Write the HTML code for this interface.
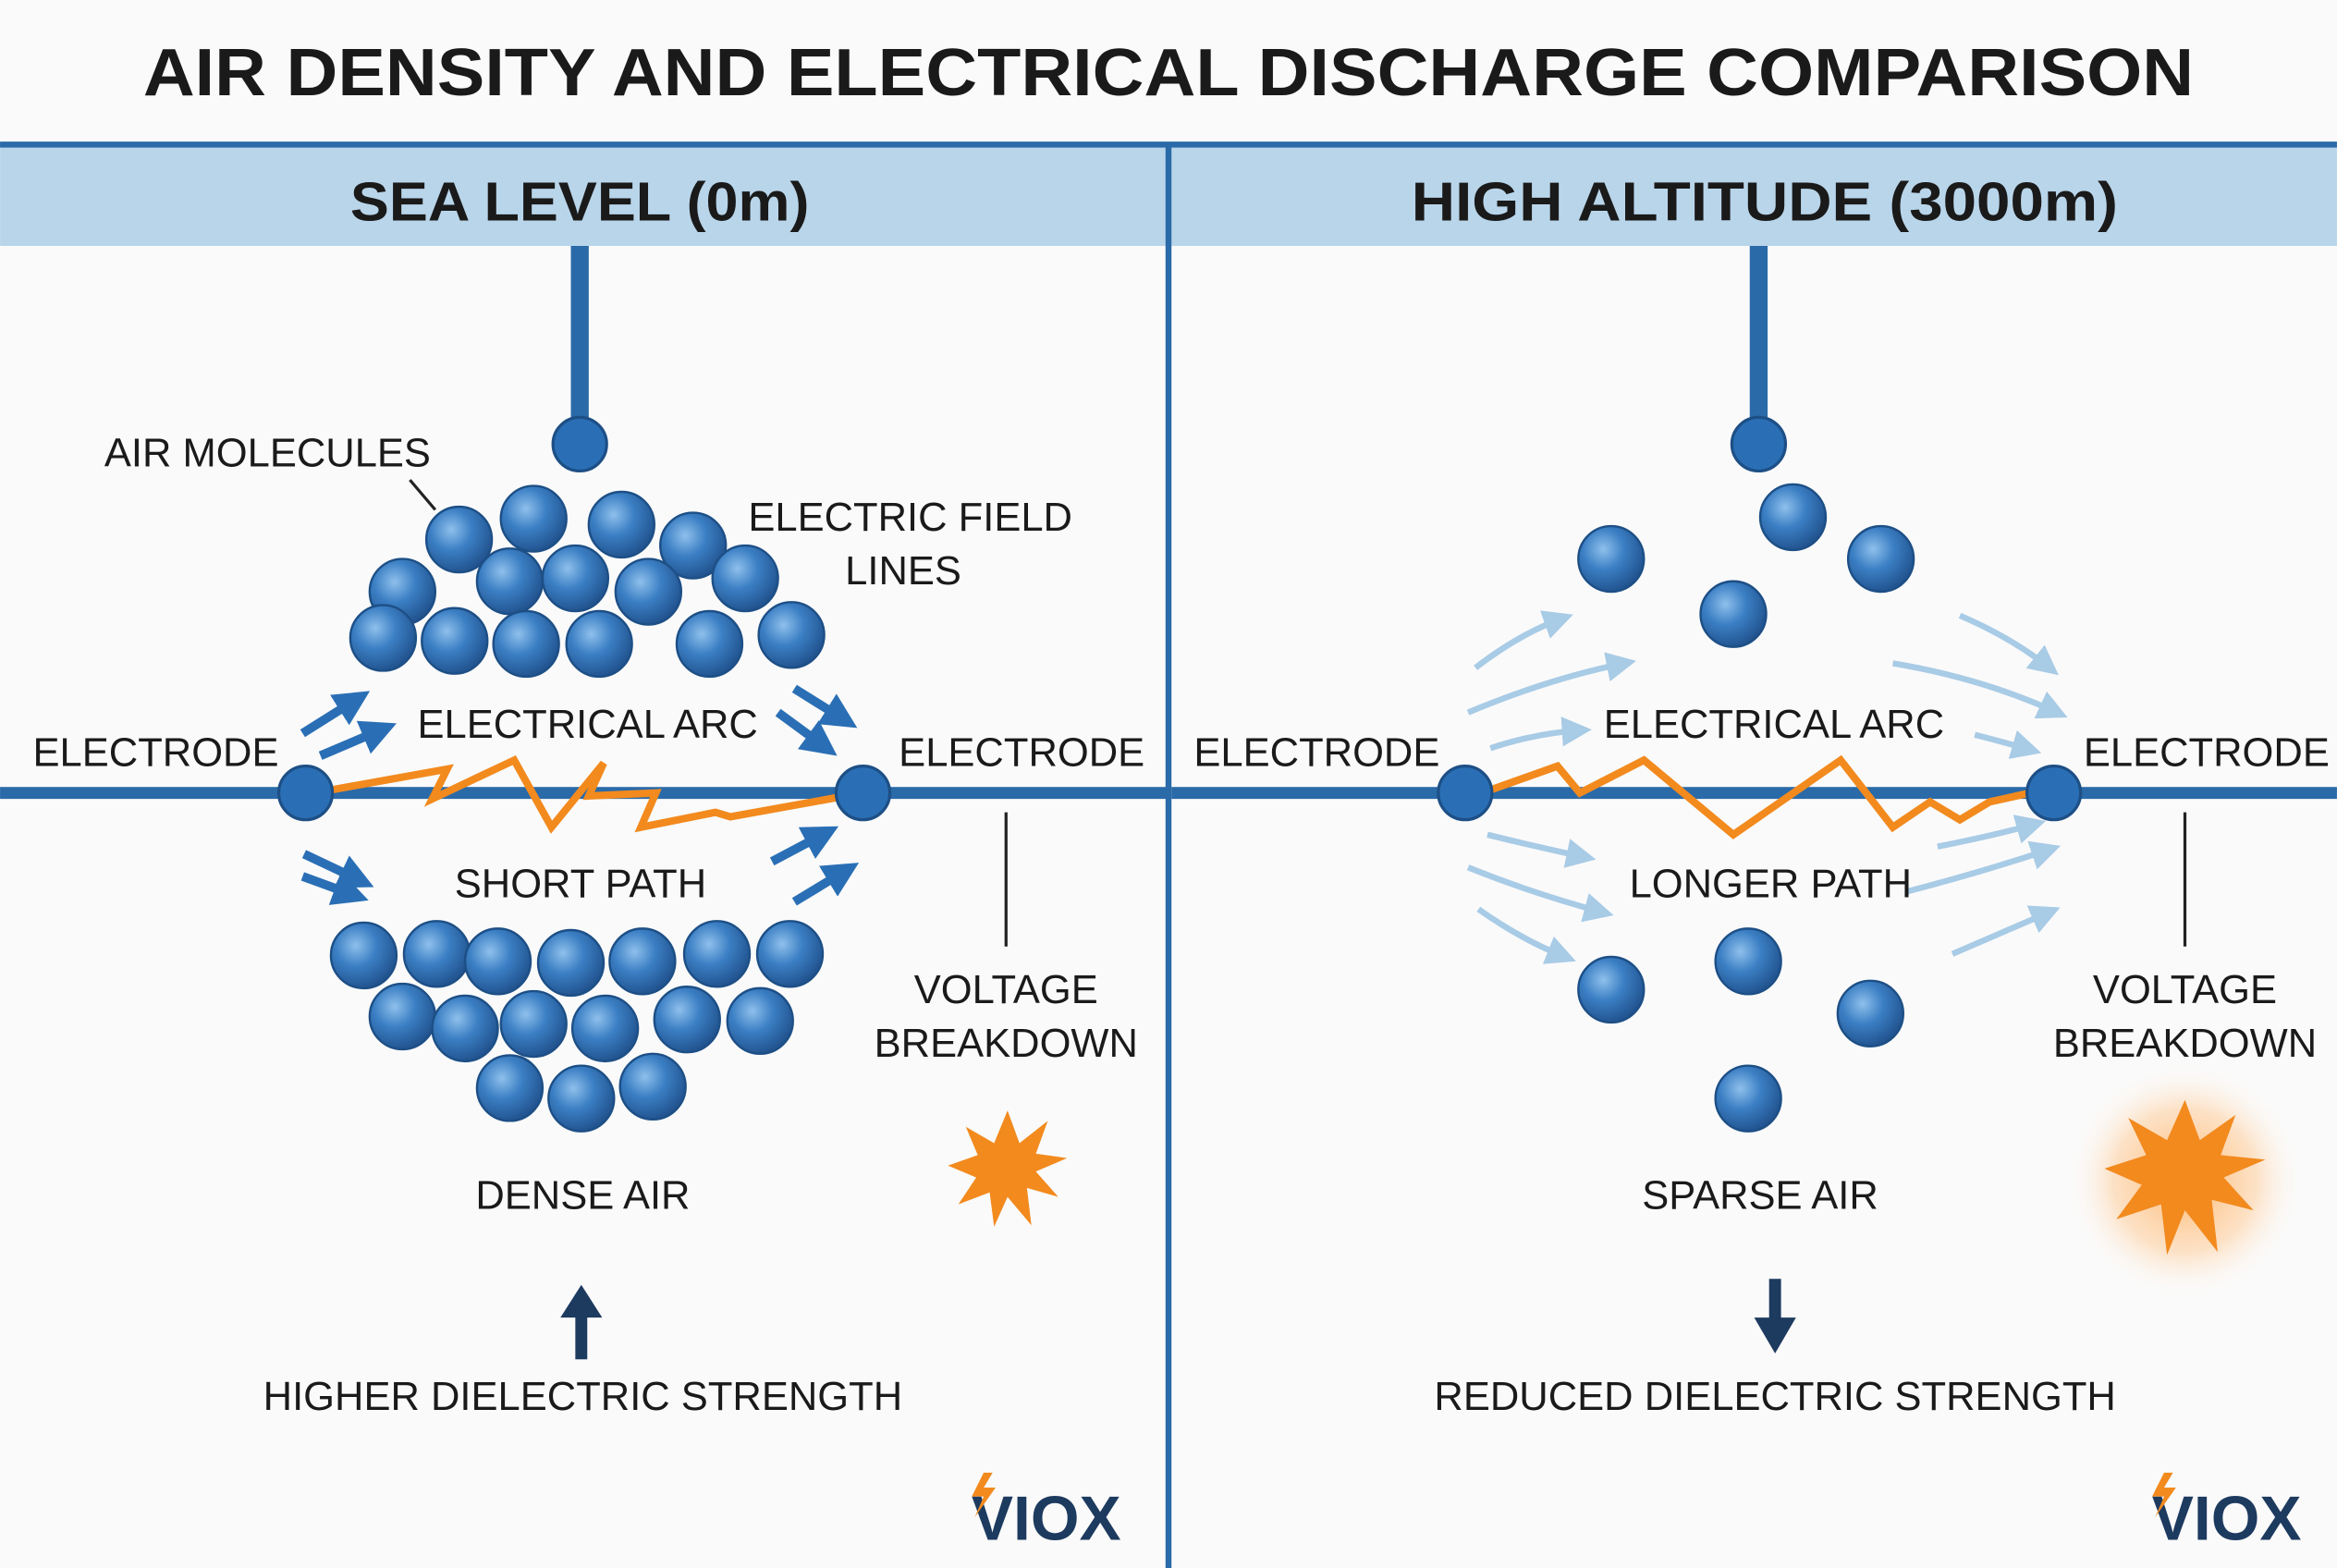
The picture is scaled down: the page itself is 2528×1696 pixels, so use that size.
<!DOCTYPE html>
<html><head><meta charset="utf-8"><style>
html,body{margin:0;padding:0;background:#fafafa}
svg{display:block}
text{font-family:"Liberation Sans",sans-serif;fill:#1a1a1a}
</style></head><body>
<svg width="2528" height="1696" viewBox="0 0 1568 1052" xmlns="http://www.w3.org/2000/svg">
<defs>
<radialGradient id="mol" cx="0.38" cy="0.35" r="0.7">
<stop offset="0" stop-color="#8fc0ec"/><stop offset="0.45" stop-color="#3b7fc4"/><stop offset="1" stop-color="#1f4f8a"/>
</radialGradient>
<radialGradient id="glow" cx="0.5" cy="0.5" r="0.5">
<stop offset="0" stop-color="#ffb060" stop-opacity="0.9"/><stop offset="0.6" stop-color="#ffc890" stop-opacity="0.5"/><stop offset="1" stop-color="#fff" stop-opacity="0"/>
</radialGradient>
<marker id="ah" markerWidth="4" markerHeight="4" refX="2" refY="2" orient="auto" markerUnits="strokeWidth"><path d="M0,0 L4,2 L0,4 z" fill="#2a6fb5"/></marker>
<marker id="ahl" markerWidth="5" markerHeight="5" refX="3" refY="2.5" orient="auto" markerUnits="strokeWidth"><path d="M0,0 L5,2.5 L0,5 z" fill="#a8cbe6"/></marker>
</defs>
<rect width="1568" height="1052" fill="#fafafa"/>
<text x="96" y="64" font-size="45" font-weight="bold" fill="#111" textLength="1376" lengthAdjust="spacingAndGlyphs">AIR DENSITY AND ELECTRICAL DISCHARGE COMPARISON</text>
<rect x="0" y="97" width="1568" height="68" fill="#b9d5ea"/>
<rect x="0" y="95" width="1568" height="4" fill="#2a6aa8"/>
<rect x="782" y="97" width="4" height="955" fill="#2a6aa8"/>
<text x="235" y="148" font-size="37" font-weight="bold" textLength="308" lengthAdjust="spacingAndGlyphs">SEA LEVEL (0m)</text>
<text x="947" y="148" font-size="37" font-weight="bold" textLength="474" lengthAdjust="spacingAndGlyphs">HIGH ALTITUDE (3000m)</text>

<g fill="#2a6aa8">
<rect x="383" y="165" width="12" height="130"/>
<rect x="1174" y="165" width="12" height="130"/>
<rect x="0" y="528" width="784" height="8"/>
<rect x="786" y="528" width="782" height="8"/>
</g>
<g fill="#2a6fb5" stroke="#1d4f86" stroke-width="2">
<circle cx="389" cy="298" r="18"/><circle cx="1180" cy="298" r="18"/>
</g>

<polyline points="222,530 300,516 290,536 345,510 370,555 405,512 395,534 440,532 430,555 480,545 490,548 562,535" fill="none" stroke="#f28a1e" stroke-width="5"/>
<polyline points="1000,530 1045,514 1060,532 1103,510 1163,560 1235,510 1270,555 1295,538 1315,550 1335,538 1362,532" fill="none" stroke="#f28a1e" stroke-width="5"/>
<g fill="#2a6fb5" stroke="#1d4f86" stroke-width="2">
<circle cx="205" cy="532" r="18"/><circle cx="579" cy="532" r="18"/>
<circle cx="983" cy="532" r="18"/><circle cx="1378" cy="532" r="18"/>
</g>

<g fill="url(#mol)" stroke="#1d4f86" stroke-width="1.5">
<circle cx="308" cy="362" r="22"/><circle cx="358" cy="348" r="22"/><circle cx="417" cy="352" r="22"/><circle cx="465" cy="366" r="22"/>
<circle cx="270" cy="397" r="22"/><circle cx="342" cy="390" r="22"/><circle cx="386" cy="388" r="22"/><circle cx="435" cy="397" r="22"/><circle cx="500" cy="388" r="22"/>
<circle cx="257" cy="428" r="22"/><circle cx="305" cy="430" r="22"/><circle cx="353" cy="432" r="22"/><circle cx="402" cy="432" r="22"/><circle cx="476" cy="432" r="22"/><circle cx="531" cy="426" r="22"/>
<circle cx="244" cy="641" r="22"/><circle cx="293" cy="640" r="22"/><circle cx="334" cy="645" r="22"/><circle cx="383" cy="646" r="22"/><circle cx="431" cy="645" r="22"/><circle cx="481" cy="640" r="22"/><circle cx="530" cy="640" r="22"/>
<circle cx="270" cy="682" r="22"/><circle cx="312" cy="690" r="22"/><circle cx="358" cy="687" r="22"/><circle cx="406" cy="690" r="22"/><circle cx="461" cy="684" r="22"/><circle cx="510" cy="685" r="22"/>
<circle cx="342" cy="730" r="22"/><circle cx="390" cy="737" r="22"/><circle cx="438" cy="729" r="22"/>
<circle cx="1203" cy="347" r="22"/><circle cx="1081" cy="375" r="22"/><circle cx="1262" cy="375" r="22"/><circle cx="1163" cy="412" r="22"/>
<circle cx="1173" cy="645" r="22"/><circle cx="1081" cy="664" r="22"/><circle cx="1255" cy="680" r="22"/><circle cx="1173" cy="737" r="22"/>
</g>

<g stroke="#2a6fb5" stroke-width="6" marker-end="url(#ah)" fill="none">
<line x1="203" y1="492" x2="238" y2="470"/><line x1="215" y1="507" x2="255" y2="490"/>
<line x1="533" y1="462" x2="565" y2="482"/><line x1="522" y1="478" x2="552" y2="500"/>
<line x1="204" y1="573" x2="240" y2="590"/><line x1="203" y1="588" x2="236" y2="600"/>
<line x1="518" y1="578" x2="552" y2="560"/><line x1="533" y1="605" x2="566" y2="585"/>
</g>
<line x1="275" y1="322" x2="292" y2="342" stroke="#222" stroke-width="2"/>

<g stroke="#a8cbe6" stroke-width="4" marker-end="url(#ahl)" fill="none">
<path d="M990,448 Q1020,425 1048,415"/><path d="M985,478 Q1040,455 1090,445"/><path d="M1000,502 Q1030,492 1060,490"/>
<path d="M1270,445 Q1330,455 1380,478"/><path d="M1315,413 Q1350,428 1375,448"/><path d="M1325,493 Q1345,498 1362,503"/>
<path d="M998,560 Q1030,568 1063,575"/><path d="M985,582 Q1030,600 1075,612"/><path d="M992,610 Q1020,630 1050,642"/>
<path d="M1300,568 Q1340,560 1365,553"/><path d="M1280,598 Q1330,585 1375,570"/><path d="M1310,640 Q1345,625 1375,612"/>
</g>

<line x1="675" y1="545" x2="675" y2="635" stroke="#222" stroke-width="2"/>
<line x1="1466" y1="545" x2="1466" y2="635" stroke="#222" stroke-width="2"/>

<circle cx="1466" cy="792" r="80" fill="url(#glow)"/>
<polygon fill="#f28a1e" points="676,745 684,767 703,752 695,774 716,777 695,786 710,803 689,797 692,822 676,803 667,823 664,800 643,808 655,790 636,782 656,775 648,756 667,767"/>
<polygon fill="#f28a1e" points="1466,738 1476,765 1500,748 1490,775 1520,778 1492,790 1512,812 1484,805 1488,840 1466,812 1454,842 1450,808 1420,818 1437,795 1412,784 1440,775 1428,750 1454,765"/>

<g fill="#1d3a5f">
<rect x="386" y="880" width="8" height="32"/><polygon points="376,884 390,862 404,884"/>
<rect x="1187" y="858" width="8" height="30"/><polygon points="1177,884 1191,908 1205,884"/>
</g>

<g font-size="27">
<text x="70" y="313">AIR MOLECULES</text>
<text x="502" y="356">ELECTRIC FIELD</text>
<text x="567" y="392">LINES</text>
<text x="280" y="495">ELECTRICAL ARC</text>
<text x="22" y="514">ELECTRODE</text>
<text x="603" y="514">ELECTRODE</text>
<text x="305" y="602">SHORT PATH</text>
<text x="675" y="673" text-anchor="middle">VOLTAGE</text>
<text x="675" y="709" text-anchor="middle">BREAKDOWN</text>
<text x="391" y="811" text-anchor="middle">DENSE AIR</text>
<text x="391" y="946" text-anchor="middle">HIGHER DIELECTRIC STRENGTH</text>
<text x="801" y="514">ELECTRODE</text>
<text x="1076" y="495">ELECTRICAL ARC</text>
<text x="1398" y="514">ELECTRODE</text>
<text x="1188" y="602" text-anchor="middle">LONGER PATH</text>
<text x="1466" y="673" text-anchor="middle">VOLTAGE</text>
<text x="1466" y="709" text-anchor="middle">BREAKDOWN</text>
<text x="1181" y="811" text-anchor="middle">SPARSE AIR</text>
<text x="1191" y="946" text-anchor="middle">REDUCED DIELECTRIC STRENGTH</text>
</g>

<g>
<text x="702" y="1033" text-anchor="middle" font-size="42" font-weight="bold" style="fill:#1d3a5f">VIOX</text>
<polygon points="660,988 652,1004 660,1004 654,1018 668,998 660,998 666,988" fill="#f28a1e"/>
<text x="1494" y="1033" text-anchor="middle" font-size="42" font-weight="bold" style="fill:#1d3a5f">VIOX</text>
<polygon points="1452,988 1444,1004 1452,1004 1446,1018 1460,998 1452,998 1458,988" fill="#f28a1e"/>
</g>
</svg>
</body></html>
